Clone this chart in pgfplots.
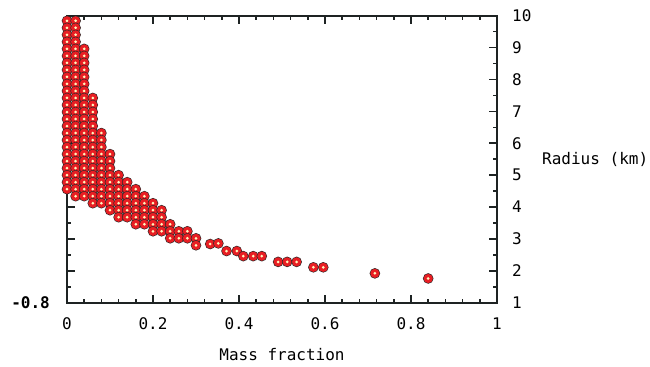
\documentclass[border=0pt]{standalone}
\usepackage{pgfplots}
\pgfplotsset{compat=1.18}
\usepackage{fontspec}
\setmainfont{DejaVu Sans Mono}
\definecolor{ptred}{RGB}{232,30,35}
\definecolor{ptdark}{RGB}{50,40,40}
\definecolor{ptcore}{RGB}{255,245,190}
\definecolor{axcol}{RGB}{30,35,35}
\pgfdeclareplotmark{ring}{%
  \pgfsetfillcolor{ptdark}%
  \pgfpathcircle{\pgfpointorigin}{5.3bp}\pgfusepathqfill
  \pgfsetfillcolor{ptred}%
  \pgfpathcircle{\pgfpointorigin}{4.6bp}\pgfusepathqfill
  \pgfsetfillcolor{ptcore}%
  \pgfpathcircle{\pgfpointorigin}{1.5bp}\pgfusepathqfill
}
\begin{document}
\begin{tikzpicture}[font=\fontsize{16bp}{19bp}\selectfont]
\path[use as bounding box] (-67bp,-64.3bp) rectangle (583bp,302.7bp);
\begin{axis}[
  at={(0,0)}, anchor=south west,
  scale only axis, width=430bp, height=287bp,
  xmin=0, xmax=1, ymin=1, ymax=10,
  xtick={0,0.2,0.4,0.6,0.8,1},
  ytick={1,2,3,4,5,6,7,8,9,10},
  minor x tick num=4, minor y tick num=1,
  xtick pos=both, ytick pos=both,
  yticklabel pos=right,
  tick align=inside,
  major tick length=8bp, minor tick length=4bp,
  axis line style={line width=2bp, axcol},
  every tick/.style={line width=1.6bp, axcol},
  /pgf/number format/assume math mode=true,
  xticklabel style={anchor=center, inner sep=0pt, yshift=-21bp},
  yticklabel style={anchor=west, inner sep=0pt, xshift=15bp},
  every axis x label/.style={at={(rel axis cs:0.5,0)}, anchor=center, yshift=-52bp},
  every axis y label/.style={at={(rel axis cs:1,0.5)}, anchor=west, inner sep=0pt, xshift=45bp},
  xlabel={Mass fraction},
  ylabel={Radius (km)},
  clip=false,
]
\addplot[only marks, mark=ring] coordinates {
(0,9.84) (0,9.62) (0,9.40) (0,9.18) (0,8.96) (0,8.74) (0,8.52) (0,8.30) (0,8.08) (0,7.86) (0,7.64) (0,7.42) (0,7.20)
(0,6.98) (0,6.76) (0,6.54) (0,6.32) (0,6.10) (0,5.88) (0,5.66) (0,5.44) (0,5.22) (0,5.00) (0,4.78) (0,4.56)
(0.02,9.84) (0.02,9.62) (0.02,9.40) (0.02,9.18) (0.02,8.96) (0.02,8.74) (0.02,8.52) (0.02,8.30) (0.02,8.08) (0.02,7.86)
(0.02,7.64) (0.02,7.42) (0.02,7.20) (0.02,6.98) (0.02,6.76) (0.02,6.54) (0.02,6.32) (0.02,6.10) (0.02,5.88) (0.02,5.66)
(0.02,5.44) (0.02,5.22) (0.02,5.00) (0.02,4.78) (0.02,4.56) (0.02,4.34)
(0.04,8.96) (0.04,8.74) (0.04,8.52) (0.04,8.30) (0.04,8.08) (0.04,7.86) (0.04,7.64) (0.04,7.42) (0.04,7.20) (0.04,6.98)
(0.04,6.76) (0.04,6.54) (0.04,6.32) (0.04,6.10) (0.04,5.88) (0.04,5.66) (0.04,5.44) (0.04,5.22) (0.04,5.00) (0.04,4.78)
(0.04,4.56) (0.04,4.34)
(0.06,7.42) (0.06,7.20) (0.06,6.98) (0.06,6.76) (0.06,6.54) (0.06,6.32) (0.06,6.10) (0.06,5.88) (0.06,5.66) (0.06,5.44)
(0.06,5.22) (0.06,5.00) (0.06,4.78) (0.06,4.56) (0.06,4.34) (0.06,4.12)
(0.08,6.32) (0.08,6.10) (0.08,5.88) (0.08,5.66) (0.08,5.44) (0.08,5.22) (0.08,5.00) (0.08,4.78) (0.08,4.56) (0.08,4.34) (0.08,4.12)
(0.10,5.66) (0.10,5.44) (0.10,5.22) (0.10,5.00) (0.10,4.78) (0.10,4.56) (0.10,4.34) (0.10,4.12) (0.10,3.90)
(0.12,5.00) (0.12,4.78) (0.12,4.56) (0.12,4.34) (0.12,4.12) (0.12,3.90) (0.12,3.68)
(0.14,4.78) (0.14,4.56) (0.14,4.34) (0.14,4.12) (0.14,3.90) (0.14,3.68)
(0.16,4.56) (0.16,4.34) (0.16,4.12) (0.16,3.90) (0.16,3.68) (0.16,3.46)
(0.18,4.34) (0.18,4.12) (0.18,3.90) (0.18,3.68) (0.18,3.46)
(0.20,4.12) (0.20,3.90) (0.20,3.68) (0.20,3.46) (0.20,3.24)
(0.22,3.90) (0.22,3.68) (0.22,3.46) (0.22,3.24)
(0.24,3.46) (0.24,3.24) (0.24,3.02)
(0.26,3.24) (0.26,3.02)
(0.28,3.24) (0.28,3.02)
(0.30,3.02) (0.30,2.80)
(0.333,2.84) (0.352,2.86) (0.371,2.62) (0.395,2.62) (0.410,2.46) (0.433,2.46) (0.453,2.46)
(0.491,2.28) (0.512,2.28) (0.534,2.28) (0.573,2.11) (0.596,2.11) (0.716,1.92) (0.840,1.76)
};
\node[anchor=east, inner sep=0pt, xshift=-17bp, font=\fontsize{16bp}{19bp}\selectfont\bfseries] at (rel axis cs:0,0) {-0.8};
\end{axis}
\end{tikzpicture}
\end{document}
